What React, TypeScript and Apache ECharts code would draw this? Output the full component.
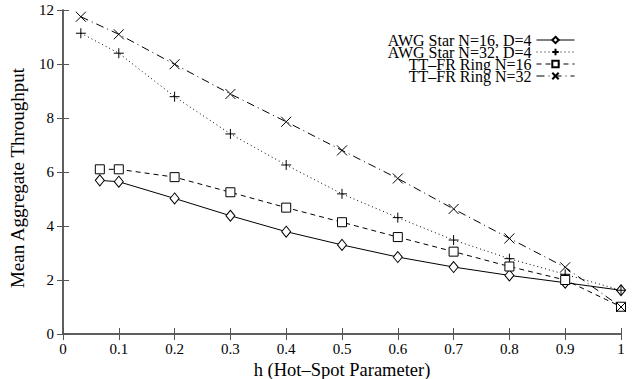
import React, { useEffect, useRef } from "react";
import * as echarts from "echarts";

const seriesNames = [
  "AWG Star N=16, D=4",
  "AWG Star N=32, D=4",
  "TT\u2013FR Ring N=16",
  "TT\u2013FR Ring N=32",
];

const hAwg16 = [0.066, 0.1, 0.2, 0.3, 0.4, 0.5, 0.6, 0.7, 0.8, 0.9, 1.0];
const awg16 = [5.69, 5.64, 5.02, 4.38, 3.79, 3.3, 2.85, 2.48, 2.17, 1.9, 1.62];

const hAwg32 = [0.032, 0.1, 0.2, 0.3, 0.4, 0.5, 0.6, 0.7, 0.8, 0.9, 1.0];
const awg32 = [11.14, 10.4, 8.79, 7.41, 6.26, 5.19, 4.31, 3.48, 2.79, 2.21, 1.62];

const hRing16 = [0.066, 0.1, 0.2, 0.3, 0.4, 0.5, 0.6, 0.7, 0.8, 0.9, 1.0];
const ring16 = [6.1, 6.1, 5.81, 5.25, 4.68, 4.14, 3.59, 3.05, 2.5, 2.0, 1.01];

const hRing32 = [0.032, 0.1, 0.2, 0.3, 0.4, 0.5, 0.6, 0.7, 0.8, 0.9, 1.0];
const ring32 = [11.75, 11.1, 9.99, 8.89, 7.86, 6.8, 5.76, 4.63, 3.54, 2.47, 1.0];

const xTicks = [0, 0.1, 0.2, 0.3, 0.4, 0.5, 0.6, 0.7, 0.8, 0.9, 1];
const yTicks = [0, 2, 4, 6, 8, 10, 12];

const FONT = "Liberation Serif";

const zip = (xs: number[], ys: number[]) => xs.map((x, i) => [x, ys[i]]);

export default function App() {
  const ref = useRef<HTMLDivElement>(null);
  useEffect(() => {
    if (!ref.current) return;
    const chart = echarts.init(ref.current, null, { renderer: "svg" });
    const frame = "#555";
    const mk = (
      name: string,
      data: number[][],
      symbol: string,
      size: number | number[],
      dash: any
    ) => ({
      name,
      type: "line",
      data,
      symbol,
      symbolSize: size,
      showAllSymbol: true,
      lineStyle: { color: "#000", width: 1, type: dash },
      itemStyle: { color: "#fff", borderColor: "#000", borderWidth: 1 },
      emphasis: { disabled: true },
    });
    const axisCommon = {
      type: "value",
      axisLine: { show: true, lineStyle: { color: frame, width: 1.5 } },
      splitLine: { show: false },
    };
    chart.setOption({
      animation: false,
      backgroundColor: "#fff",
      textStyle: { fontFamily: FONT },
      grid: {
        left: 63,
        right: 20,
        top: 10,
        bottom: 45,
        containLabel: false,
        outerBoundsMode: "none",
      },
      legend: {
        orient: "vertical",
        align: "right",
        right: 66,
        top: 32,
        itemGap: -4,
        itemWidth: 38,
        itemHeight: 8,
        data: seriesNames,
        lineStyle: { width: 1 },
        textStyle: {
          fontFamily: FONT,
          fontSize: 16,
          lineHeight: 12,
          color: "#000",
          padding: [0, 0, 0, 0],
        },
        padding: 0,
      },
      xAxis: [
        {
          ...axisCommon,
          min: 0,
          max: 1,
          interval: 0.1,
          name: "h (Hot\u2013Spot Parameter)",
          nameLocation: "middle",
          nameGap: 21,
          nameTextStyle: { fontFamily: FONT, fontSize: 18.5, lineHeight: 18, color: "#000" },
          axisTick: { show: true, inside: true, length: 6, lineStyle: { color: frame } },
          axisLabel: {
            fontFamily: FONT,
            fontSize: 15,
            color: "#000",
            margin: 7,
            formatter: (v: number) => {
              const t = xTicks.find((x) => Math.abs(x - v) < 1e-6);
              return t === undefined ? "" : String(t);
            },
          },
        },
        {
          ...axisCommon,
          position: "top",
          min: 0,
          max: 1,
          interval: 0.1,
          axisTick: { show: true, inside: true, length: 6, lineStyle: { color: frame } },
          axisLabel: { show: false },
        },
      ],
      yAxis: [
        {
          ...axisCommon,
          min: 0,
          max: 12,
          interval: 2,
          name: "Mean Aggregate Throughput",
          nameLocation: "middle",
          nameGap: 36,
          nameTextStyle: {
            fontFamily: FONT,
            fontSize: 19,
            color: "#000",
            padding: [0, 12, 0, 0],
          },
          axisTick: { show: true, inside: true, length: 6, lineStyle: { color: frame } },
          axisLabel: {
            fontFamily: FONT,
            fontSize: 15,
            color: "#000",
            margin: 9,
            formatter: (v: number) => (yTicks.includes(v) ? String(v) : ""),
          },
        },
        {
          ...axisCommon,
          position: "right",
          min: 0,
          max: 12,
          interval: 2,
          axisTick: { show: true, inside: true, length: 6, lineStyle: { color: frame } },
          axisLabel: { show: false },
        },
      ],
      series: [
        mk(seriesNames[0], zip(hAwg16, awg16), "diamond", [9, 11], "solid"),
        mk(seriesNames[1], zip(hAwg32, awg32), "path://M5,0L5,10M0,5L10,5", 10, [1, 3]),
        mk(seriesNames[2], zip(hRing16, ring16), "rect", 9, [5, 4]),
        mk(seriesNames[3], zip(hRing32, ring32), "path://M0,0L10,10M10,0L0,10", 10, [8, 4, 1, 4]),
      ],
    });
    return () => chart.dispose();
  }, []);
  return (
    <div
      ref={ref}
      style={{ position: "fixed", left: 0, top: 0, width: 641, height: 379 }}
    />
  );
}
